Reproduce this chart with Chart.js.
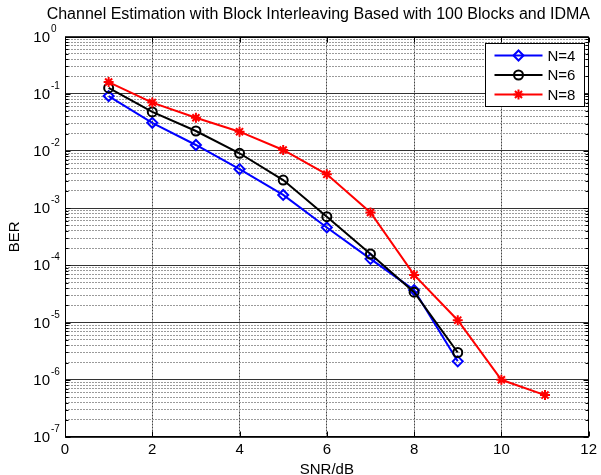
<!DOCTYPE html>
<html>
<head>
<meta charset="utf-8">
<script src="https://cdn.jsdelivr.net/npm/chart.js@4.4.1/dist/chart.umd.min.js"></script>
<style>
  html, body { margin: 0; padding: 0; background: #ffffff; }
  canvas { display: block; }
</style>
</head>
<body>
<canvas id="berChart" width="601" height="475"></canvas>
<script>
// BER versus SNR for three block counts
const chartTitle = 'Channel Estimation with Block Interleaving Based with 100 Blocks and IDMA';
const xAxisTitle = 'SNR/dB';
const yAxisTitle = 'BER';
const seriesNames = ['N=4', 'N=6', 'N=8'];

const snrN4 = [1, 2, 3, 4, 5, 6, 7, 8, 9];
const berN4 = [0.091, 0.031, 0.0127, 0.0048, 0.0017, 4.6e-4, 1.3e-4, 3.7e-5, 2.1e-6];

const snrN6 = [1, 2, 3, 4, 5, 6, 7, 8, 9];
const berN6 = [0.126, 0.048, 0.0223, 0.0091, 0.0031, 7.1e-4, 1.58e-4, 3.4e-5, 3.0e-6];

const snrN8 = [1, 2, 3, 4, 5, 6, 7, 8, 9, 10, 11];
const berN8 = [0.16, 0.070, 0.038, 0.0217, 0.0104, 0.0039, 8.4e-4, 6.8e-5, 1.1e-5, 1.0e-6, 5.4e-7];

const xTickValues = [0, 2, 4, 6, 8, 10, 12];
const yDecadeExponents = [-7, -6, -5, -4, -3, -2, -1, 0];
const yMinorSteps = [2, 3, 4, 5, 6, 7, 8, 9];

const FONT = '"Liberation Sans", Arial, Helvetica, sans-serif';

function pairs(xs, ys) {
  return ys.map((y, i) => ({ x: xs[i], y: y }));
}

// every grid value on the log axis: decades plus 2..9 between them
function logTickValues() {
  const vals = [];
  yDecadeExponents.forEach((e, i) => {
    vals.push({ value: Math.pow(10, e), major: true });
    if (i < yDecadeExponents.length - 1) {
      yMinorSteps.forEach(m => vals.push({ value: m * Math.pow(10, e), major: false }));
    }
  });
  return vals;
}

const seriesStyles = [
  { color: '#0000ff', pointStyle: 'rectRot', radius: 5 },
  { color: '#000000', pointStyle: 'circle', radius: 4.5 },
  { color: '#ff0000', pointStyle: 'star', radius: 5 }
];

const seriesData = [pairs(snrN4, berN4), pairs(snrN6, berN6), pairs(snrN8, berN8)];

const datasets = seriesNames.map((name, i) => ({
  label: name,
  data: seriesData[i],
  borderColor: seriesStyles[i].color,
  backgroundColor: 'rgba(0,0,0,0)',
  borderWidth: 2,
  pointStyle: seriesStyles[i].pointStyle,
  pointRadius: seriesStyles[i].radius,
  pointHoverRadius: seriesStyles[i].radius,
  pointBorderWidth: 2,
  pointBorderColor: seriesStyles[i].color,
  pointBackgroundColor: 'rgba(0,0,0,0)',
  tension: 0,
  fill: false,
  order: seriesNames.length - i
}));

// title line above the axes
const topTitle = {
  id: 'topTitle',
  afterDraw(chart) {
    const { ctx, chartArea: a } = chart;
    ctx.save();
    ctx.fillStyle = '#000';
    ctx.font = '16px ' + FONT;
    ctx.textAlign = 'center';
    ctx.textBaseline = 'middle';
    ctx.fillText(chartTitle, (a.left + a.right) / 2 - 8.5, a.top - 22);
    ctx.restore();
  }
};

// box around the axes and inward tick marks on all four sides
const axesFrame = {
  id: 'axesFrame',
  afterDatasetsDraw(chart) {
    const { ctx, chartArea: a, scales } = chart;
    const L = Math.round(a.left) + 0.5, R = Math.round(a.right) - 0.5;
    const T = Math.round(a.top) + 0.5, B = Math.round(a.bottom) - 0.5;
    ctx.save();
    ctx.strokeStyle = '#000';
    ctx.lineWidth = 1;
    ctx.beginPath();
    xTickValues.forEach(v => {
      const px = Math.round(scales.x.getPixelForValue(v)) + 0.5;
      ctx.moveTo(px, B); ctx.lineTo(px, B - 5);
      ctx.moveTo(px, T); ctx.lineTo(px, T + 5);
    });
    logTickValues().forEach(t => {
      const py = Math.round(scales.y.getPixelForValue(t.value)) + 0.5;
      const len = t.major ? 5 : 3;
      ctx.moveTo(L, py); ctx.lineTo(L + len, py);
      ctx.moveTo(R, py); ctx.lineTo(R - len, py);
    });
    ctx.stroke();
    ctx.strokeRect(L, T, R - L, B - T);
    ctx.restore();
  }
};

// powers of ten on the log axis, with raised exponents
const decadeLabels = {
  id: 'decadeLabels',
  afterDraw(chart) {
    const { ctx, chartArea: a, scales } = chart;
    ctx.save();
    ctx.fillStyle = '#000';
    yDecadeExponents.forEach(e => {
      const py = scales.y.getPixelForValue(Math.pow(10, e));
      const xr = a.left - 15;
      ctx.font = '15px ' + FONT;
      ctx.textAlign = 'right';
      ctx.textBaseline = 'middle';
      ctx.fillText('10', xr, py + 1);
      ctx.font = '10px ' + FONT;
      ctx.textAlign = 'left';
      ctx.textBaseline = 'alphabetic';
      ctx.fillText(String(e), xr + 1, py - 5);
    });
    ctx.restore();
  }
};

// legend box in the upper right corner of the axes
const boxLegend = {
  id: 'boxLegend',
  afterDraw(chart) {
    const { ctx, chartArea: a } = chart;
    const w = 99, h = 63;
    const left = Math.round(a.right - 5 - w) + 0.5;
    const top = Math.round(a.top + 6) + 0.5;
    ctx.save();
    ctx.fillStyle = '#fff';
    ctx.fillRect(left, top, w, h);
    ctx.strokeStyle = '#000';
    ctx.lineWidth = 1;
    ctx.strokeRect(left, top, w, h);
    chart.data.datasets.forEach((ds, i) => {
      const y = top + 12 + i * 19.5;
      ctx.strokeStyle = ds.borderColor;
      ctx.lineWidth = 2;
      ctx.beginPath();
      ctx.moveTo(left + 9, y);
      ctx.lineTo(left + 57, y);
      ctx.stroke();
      ctx.fillStyle = 'rgba(0,0,0,0)';
      Chart.helpers.drawPoint(ctx, {
        pointStyle: ds.pointStyle,
        radius: ds.pointRadius,
        rotation: 0,
        borderWidth: 2
      }, left + 33, y);
      ctx.fillStyle = '#000';
      ctx.font = '15px ' + FONT;
      ctx.textAlign = 'left';
      ctx.textBaseline = 'middle';
      ctx.fillText(ds.label, left + 62, y + 1);
    });
    ctx.restore();
  }
};

new Chart(document.getElementById('berChart'), {
  type: 'line',
  data: { datasets: datasets },
  options: {
    responsive: false,
    animation: false,
    devicePixelRatio: 1,
    layout: { padding: { left: 0, right: 11, top: 36.5, bottom: 0 } },
    plugins: {
      legend: { display: false },
      tooltip: { enabled: false },
      title: { display: false }
    },
    scales: {
      x: {
        type: 'linear',
        min: 0,
        max: 12,
        afterBuildTicks(scale) { scale.ticks = xTickValues.map(v => ({ value: v })); },
        afterFit(scale) { scale.height = 38; },
        ticks: {
          color: '#000',
          font: { family: FONT, size: 15 },
          padding: 4,
          maxRotation: 0,
          autoSkip: false,
          callback: v => String(v)
        },
        grid: {
          drawTicks: false,
          color: '#444',
          lineWidth: 1
        },
        border: { display: false, dash: [2, 1] },
        title: {
          display: true,
          text: xAxisTitle,
          color: '#000',
          font: { family: FONT, size: 15, lineHeight: 1 },
          padding: { top: 0, bottom: -2 }
        }
      },
      y: {
        type: 'logarithmic',
        min: 1e-7,
        max: 1,
        afterBuildTicks(scale) { scale.ticks = logTickValues(); },
        afterFit(scale) { scale.width = 65; },
        ticks: { display: false },
        grid: {
          drawTicks: false,
          color: ctx => (ctx.tick && ctx.tick.major) ? '#333' : '#9a9a9a',
          lineWidth: 1
        },
        border: {
          display: false,
          dash: ctx => (ctx.tick && ctx.tick.major) ? [] : [2, 1]
        },
        title: {
          display: true,
          text: yAxisTitle,
          color: '#000',
          font: { family: FONT, size: 15, lineHeight: 1 },
          padding: { top: 7, bottom: 0 }
        }
      }
    }
  },
  plugins: [topTitle, axesFrame, decadeLabels, boxLegend]
});
</script>
</body>
</html>
